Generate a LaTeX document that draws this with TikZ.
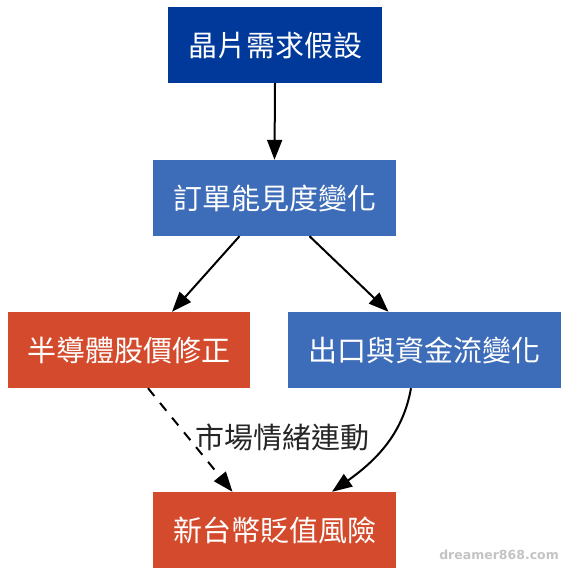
\documentclass[tikz,border=0pt]{standalone}
\usepackage{fontspec}
\newfontfamily\cjk{Noto Sans CJK TC}
\newfontfamily\wmfont{DejaVu Sans}
\usetikzlibrary{arrows.meta}
\definecolor{dkblue}{HTML}{00399A}
\definecolor{mdblue}{HTML}{3D6CB9}
\definecolor{rdorg}{HTML}{D34B2C}
\definecolor{wmgray}{HTML}{C4C4C4}
\tikzset{
  x=1pt, y=1pt,
  box/.style={rectangle, draw=none, text=white, inner sep=0pt, minimum height=76pt, font=\cjk\fontsize{29}{29}\selectfont},
  conn/.style={line width=2pt, -{Triangle[length=20pt,width=15pt]}},
  lbl/.style={font=\cjk\fontsize{29}{29}\selectfont, text=black!85, inner sep=0pt}
}
\begin{document}
\begin{tikzpicture}
\useasboundingbox (0,0) rectangle (570,-577);
\fill[white] (0,0) rectangle (570,-577);
\node[box, fill=dkblue, minimum width=214pt] (n1) at (275,-45) {晶片需求假設};
\node[box, fill=mdblue, minimum width=243pt] (n2) at (274.5,-198) {訂單能見度變化};
\node[box, fill=rdorg, minimum width=242pt] (n3) at (129,-350) {半導體股價修正};
\node[box, fill=mdblue, minimum width=273pt] (n4) at (424.5,-350) {出口與資金流變化};
\node[box, fill=rdorg, minimum width=243pt] (n5) at (274.5,-530) {新台幣貶值風險};
\draw[conn] (n1.south) -- (n2.north);
\draw[conn] ([xshift=-35pt]n2.south) -- ([xshift=43pt]n3.north);
\draw[conn] ([xshift=35pt]n2.south) -- ([xshift=-36pt]n4.north);
\draw[conn, dash pattern=on 10pt off 9pt] ([xshift=19pt]n3.south) -- ([xshift=-42pt]n5.north);
\draw[conn] ([xshift=-13.5pt]n4.south) .. controls +(-8,-45) and +(45,32) .. ([xshift=57.5pt]n5.north);
\node[lbl] (l1) at (282.5,-438) {市場情緒連動};
\node[font=\wmfont\bfseries\fontsize{12.5}{12.5}\selectfont, text=wmgray, anchor=east, inner sep=0pt] (wm) at (559,-555) {dreamer868.com};
\end{tikzpicture}
\end{document}
